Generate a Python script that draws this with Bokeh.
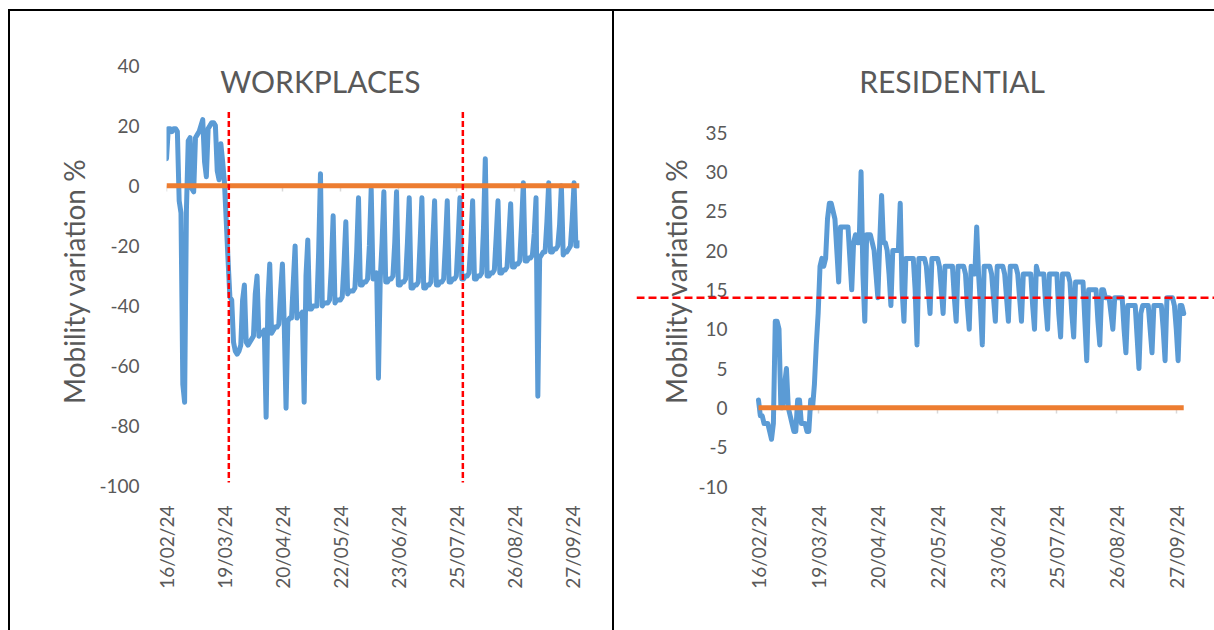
import math
from bokeh.plotting import figure
from bokeh.models import Range1d, FixedTicker, LinearAxis, Span, Label, Div
from bokeh.layouts import row, column
from bokeh.embed import file_html
from bokeh.resources import INLINE

# ---------------- data ----------------
# day index 0 = first observation (tick "16/02/24"), one value per day
day_index = list(range(229))
tick_days = [0, 32, 64, 96, 128, 160, 192, 224]
tick_labels = ["16/02/24", "19/03/24", "20/04/24", "22/05/24",
               "23/06/24", "25/07/24", "26/08/24", "27/09/24"]

workplaces = [
    9, 19, 19, 18, 19, 19, 18,
    -5, -9, -66, -72, -8, 15, 16,
    -1, -2, 16, 17, 18, 20, 22,
    8, 3, 19, 20, 21, 21, 20,
    5, 2, 14, 8, 1, -12, -25,
    -37, -38, -52, -55, -56, -55, -53,
    -38, -33, -52, -53, -52, -51, -50,
    -36, -30, -50, -49, -49, -48, -77,
    -38, -26, -49, -48, -47, -47, -46,
    -35, -26, -46, -74, -45, -44, -44,
    -32, -20, -44, -43, -43, -42, -72,
    -30, -18, -41, -41, -40, -40, -40,
    -22, 4, -40, -39, -39, -39, -38,
    -27, -10, -39, -38, -38, -38, -37,
    -26, -12, -36, -35, -35, -35, -34,
    -22, -4, -33, -33, -32, -32, -31,
    -20, -1, -31, -30, -29, -64, -31,
    -19, -2, -32, -32, -31, -31, -30,
    -19, -2, -33, -33, -32, -32, -31,
    -19, -4, -34, -34, -33, -33, -32,
    -19, -4, -34, -34, -33, -33, -32,
    -19, -5, -33, -33, -32, -32, -31,
    -19, -5, -32, -32, -31, -31, -30,
    -18, -4, -31, -31, -30, -30, -29,
    -19, -5, -31, -31, -30, -30, -29,
    -14, 9, -30, -30, -29, -29, -28,
    -17, -5, -29, -29, -28, -28, -27,
    -17, -6, -27, -27, -26, -26, -25,
    -13, 1, -25, -25, -24, -24, -23,
    -16, -4, -70, -24, -23, -22, -22,
    -12, 1, -22, -22, -21, -21, -20,
    -13, 0, -23, -22, -22, -21, -20,
    -11, 1, -20, -20, -19,
]

residential = [
    1, -1, -1, -2, -2, -2, -3,
    -4, -2, 11, 11, 10, 0, 0,
    3, 5, 0, -1, -2, -3, -3,
    1, 1, -2, -2, -2, -3, -3,
    1, 0, 3, 8, 12, 18, 19,
    18, 19, 24, 26, 26, 25, 24,
    20, 16, 23, 23, 23, 23, 23,
    19, 15, 21, 22, 21, 21, 30,
    17, 11, 22, 22, 22, 21, 20,
    17, 14, 21, 27, 21, 21, 20,
    17, 13, 20, 20, 20, 20, 26,
    15, 11, 19, 19, 19, 19, 19,
    15, 8, 19, 19, 19, 19, 18,
    15, 12, 19, 19, 19, 19, 18,
    15, 12, 18, 18, 18, 18, 18,
    14, 11, 18, 18, 18, 18, 17,
    13, 10, 18, 17, 17, 23, 17,
    13, 8, 18, 18, 18, 18, 17,
    14, 11, 18, 18, 18, 18, 17,
    14, 11, 18, 18, 18, 18, 17,
    14, 11, 17, 17, 17, 17, 17,
    13, 10, 18, 17, 17, 17, 17,
    13, 10, 17, 17, 17, 17, 17,
    12, 9, 17, 17, 17, 17, 16,
    12, 9, 16, 16, 16, 16, 16,
    11, 6, 15, 15, 15, 15, 15,
    11, 8, 15, 15, 14, 14, 14,
    12, 10, 14, 14, 14, 14, 14,
    10, 7, 13, 13, 13, 13, 13,
    9, 5, 12, 13, 13, 13, 13,
    10, 7, 13, 13, 13, 13, 13,
    10, 6, 14, 14, 14, 14, 13,
    10, 6, 13, 13, 12,
]

baseline = [0] * len(day_index)

workplace_event_days = [34.4, 163.6]     # red dashed markers
workplace_event_top = 24.5
workplace_event_bottom = -98.7
residential_threshold = 14

work_yticks = [-100, -80, -60, -40, -20, 0, 20, 40]
res_yticks = [-10, -5, 0, 5, 10, 15, 20, 25, 30, 35]

BLUE = "#5B9BD5"
ORANGE = "#ED7D31"
RED = "#FF0000"
TXT = "#595959"
FONT = "Lato"
PLOT_H = 619


def base_figure(width, x_rng, y_rng, y_ticks, mbl, mbr, label_standoff,
                title_standoff, y_axis_at=None):
    p = figure(width=width, height=PLOT_H, x_range=Range1d(*x_rng),
               y_range=Range1d(*y_rng), output_backend="svg",
               toolbar_location=None, min_border_left=mbl,
               min_border_right=mbr, min_border_top=54,
               min_border_bottom=134)
    p.grid.visible = False
    p.outline_line_color = None
    p.background_fill_color = "white"
    p.border_fill_color = "white"

    xa = p.xaxis[0]
    xa.ticker = FixedTicker(ticks=tick_days)
    xa.major_label_overrides = {d: l for d, l in zip(tick_days, tick_labels)}
    xa.major_label_orientation = math.pi / 2
    xa.axis_line_color = None
    xa.major_tick_line_color = None
    xa.minor_tick_line_color = None
    xa.major_label_standoff = 3
    xa.major_label_text_font = FONT
    xa.major_label_text_font_size = "19px"
    xa.major_label_text_color = TXT

    ya = p.yaxis[0]
    ya.ticker = FixedTicker(ticks=y_ticks)
    ya.major_label_overrides = {t: str(t) for t in y_ticks}
    ya.axis_line_color = None
    ya.major_tick_line_color = None
    ya.minor_tick_line_color = None
    ya.major_label_standoff = label_standoff
    ya.major_label_text_font = FONT
    ya.major_label_text_font_size = "19px"
    ya.major_label_text_color = TXT
    ya.axis_label = "Mobility variation %"
    ya.axis_label_text_font = FONT
    ya.axis_label_text_font_size = "28px"
    ya.axis_label_text_font_style = "normal"
    ya.axis_label_text_color = TXT
    ya.axis_label_standoff = title_standoff
    if y_axis_at is not None:
        ya.fixed_location = y_axis_at

    zero_axis = LinearAxis(fixed_location=0, ticker=FixedTicker(ticks=tick_days),
                           axis_line_color=None, major_tick_in=0,
                           major_tick_out=6, major_tick_line_color="#D9D9D9",
                           major_tick_line_width=1.5,
                           minor_tick_line_color=None,
                           major_label_text_font_size="0px",
                           major_label_text_alpha=0, level="underlay")
    p.add_layout(zero_axis, "below")
    return p


# ---------------- WORKPLACES ----------------
p1 = base_figure(602, (0, 228), (-103.33, 40), work_yticks, 156, 33, 21, 5)
p1.line(day_index, workplaces, line_color=BLUE, line_width=5,
        line_join="round", line_cap="round")
p1.line(day_index, baseline, line_color=ORANGE, line_width=5)
p1.segment(x0=workplace_event_days, x1=workplace_event_days,
           y0=[workplace_event_top] * len(workplace_event_days),
           y1=[workplace_event_bottom] * len(workplace_event_days),
           line_color=RED, line_width=2.5, line_dash="6 3")
p1.add_layout(Label(x=85, y=35, text="WORKPLACES", text_align="center",
                    text_baseline="middle", text_font=FONT,
                    text_font_size="30px", text_color=TXT))

# ---------------- RESIDENTIAL ----------------
# frame reaches left past the y axis so the threshold line runs across it
p2 = base_figure(600, (-65.4, 244.5), (-11.27, 43.52), res_yticks, 22, 0, 25, 2,
                 y_axis_at=0)
p2.line(day_index, residential, line_color=BLUE, line_width=5,
        line_join="round", line_cap="round")
p2.line(day_index, baseline, line_color=ORANGE, line_width=5)
p2.add_layout(Span(location=residential_threshold, dimension="width",
                   line_color=RED, line_width=2.5, line_dash="8 4"))
p2.add_layout(Label(x=103.8, y=41.6, text="RESIDENTIAL", text_align="center",
                    text_baseline="middle", text_font=FONT,
                    text_font_size="30px", text_color=TXT))

# ---------------- table-like frame lines ----------------
top_rule = Div(width=1206, height=2, margin=(0, 0, 0, 0),
               styles={"background-color": "black"})
left_rule = Div(width=2, height=PLOT_H, margin=(0, 0, 0, 0),
                styles={"background-color": "black"})
mid_rule = Div(width=2, height=PLOT_H, margin=(0, 0, 0, 0),
               styles={"background-color": "black"})

layout = column(top_rule, row(left_rule, p1, mid_rule, p2),
                margin=(9, 0, 0, 8))
open("out.html", "w").write(file_html(layout, INLINE))
